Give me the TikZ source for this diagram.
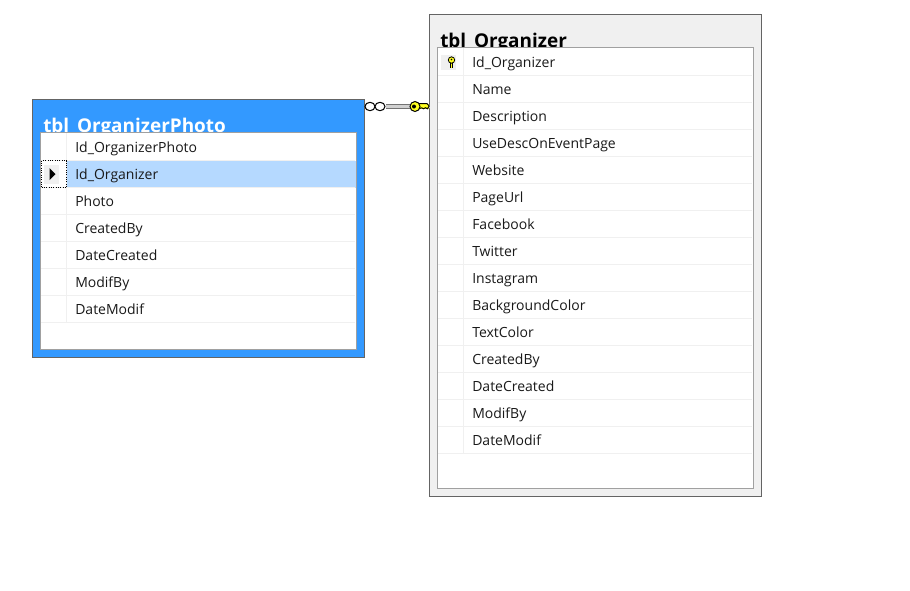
\documentclass[tikz,border=0pt]{standalone}
\usepackage{fontspec}
\setmainfont{Open Sans}
\definecolor{frame}{HTML}{646464}
\definecolor{inner}{HTML}{A0A0A0}
\definecolor{bluebar}{HTML}{3399FF}
\definecolor{greybar}{HTML}{F0F0F0}
\definecolor{rowline}{HTML}{F0F0F0}
\definecolor{selrow}{HTML}{B5D9FF}
\definecolor{keyyellow}{HTML}{FFFF20}
\tikzset{
  x=0.75pt,y=-0.75pt,
  box/.style={rectangle,inner sep=0pt,outer sep=0pt,anchor=north west},
  outerbox/.style={box,draw=frame,line width=1.1pt},
  innerbox/.style={box,draw=inner,fill=white,line width=0.85pt},
  titletext/.style={anchor=base west,inner sep=0pt,font=\fontsize{14.2pt}{16pt}\selectfont\bfseries},
  rowtext/.style={anchor=base west,inner sep=0pt,font=\fontsize{10.5pt}{13pt}\selectfont,text=black!90},
  rowrule/.style={draw=rowline,line width=0.75pt},
  connector/.style={draw=black!55,line width=0.75pt,double=black!18,double distance=2.25pt},
}
\begin{document}
\begin{tikzpicture}
\useasboundingbox (0,0) rectangle (910,590);
\fill[white] (0,0) rectangle (910,590);

% left table
\node[outerbox,fill=bluebar,minimum width=332*0.75pt,minimum height=258*0.75pt] (ltbl) at (32.5,99.5) {};
\node[titletext,text=white] (ltitle) at (43,132) {tbl\_OrganizerPhoto};
\node[innerbox,minimum width=316*0.75pt,minimum height=217*0.75pt] (lpanel) at (40.5,132.5) {};
\node[box,fill=selrow,minimum width=289*0.75pt,minimum height=27*0.75pt] (lsel) at (67,160.5) {};
\foreach \yy in {160,187,214,241,268,295,322}
  \draw[rowrule] (41,\yy.5) -- (355,\yy.5);
\draw[rowrule] (66.5,133) -- (66.5,322);
\foreach \i/\t in {0/Id\_OrganizerPhoto,1/Id\_Organizer,2/Photo,3/CreatedBy,4/DateCreated,5/ModifBy,6/DateModif}
  \node[rowtext] (lrow\i) at (75,152+27*\i) {\t};
\node[box,fill=greybar,minimum width=15*0.75pt,minimum height=19*0.75pt] (lmark) at (44,164.5) {};
\node[box,draw=black,densely dotted,line width=0.75pt,minimum width=25*0.75pt,minimum height=27*0.75pt] (lfocus) at (41.5,160.5) {};
\fill[black] (49.5,168) -- (55.5,174) -- (49.5,180) -- cycle;

% right table
\node[outerbox,fill=greybar,minimum width=332*0.75pt,minimum height=482*0.75pt] (rtbl) at (429.5,14.5) {};
\node[titletext,text=black] (rtitle) at (440,47) {tbl\_Organizer};
\node[innerbox,minimum width=316*0.75pt,minimum height=441*0.75pt] (rpanel) at (437.5,47.5) {};
\foreach \k in {0,...,14}
  \draw[rowrule] (438,75.5+27*\k) -- (752,75.5+27*\k);
\draw[rowrule] (463.5,48) -- (463.5,453);
\foreach \i/\t in {0/Id\_Organizer,1/Name,2/Description,3/UseDescOnEventPage,4/Website,5/PageUrl,6/Facebook,7/Twitter,8/Instagram,9/BackgroundColor,10/TextColor,11/CreatedBy,12/DateCreated,13/ModifBy,14/DateModif}
  \node[rowtext] (rrow\i) at (472,67+27*\i) {\t};
\node[box,fill=greybar,minimum width=15*0.75pt,minimum height=15*0.75pt] (rmark) at (441,55) {};
% primary key glyph in the row
\draw[black,line width=2.2pt] (451.5,61) -- (451.5,68);
\draw[keyyellow,line width=0.8pt] (451.5,62) -- (451.5,67.5);
\draw[black,fill=keyyellow,line width=0.6pt] (451.5,60) circle[radius=3.2];
\fill[black] (451.5,59.5) circle[radius=0.8];

% relationship
\coordinate (relY) at (0,106.5);
\draw[connector] (ltbl.east |- relY) -- (rtbl.west |- relY);
\fill[white] (365.5,100) rectangle (386,113);
\draw[black,fill=white,line width=0.75pt] (370,106.5) ellipse[x radius=5,y radius=4.2];
\draw[black,fill=white,line width=0.75pt] (380,106.5) ellipse[x radius=5,y radius=4.2];
\fill[keyyellow] (418,104) rectangle (429,108.5);
\draw[black,line width=0.75pt] (418,103.7) -- (427,103.7) -- (429.2,106) -- (427.5,108.8) -- (425.5,107.8) -- (423.5,108.8) -- (421.5,107.8) -- (418,109);
\draw[black,fill=keyyellow,line width=0.75pt] (415,106.5) circle[radius=5];
\fill[black] (414,106.5) circle[radius=2];
\end{tikzpicture}
\end{document}
